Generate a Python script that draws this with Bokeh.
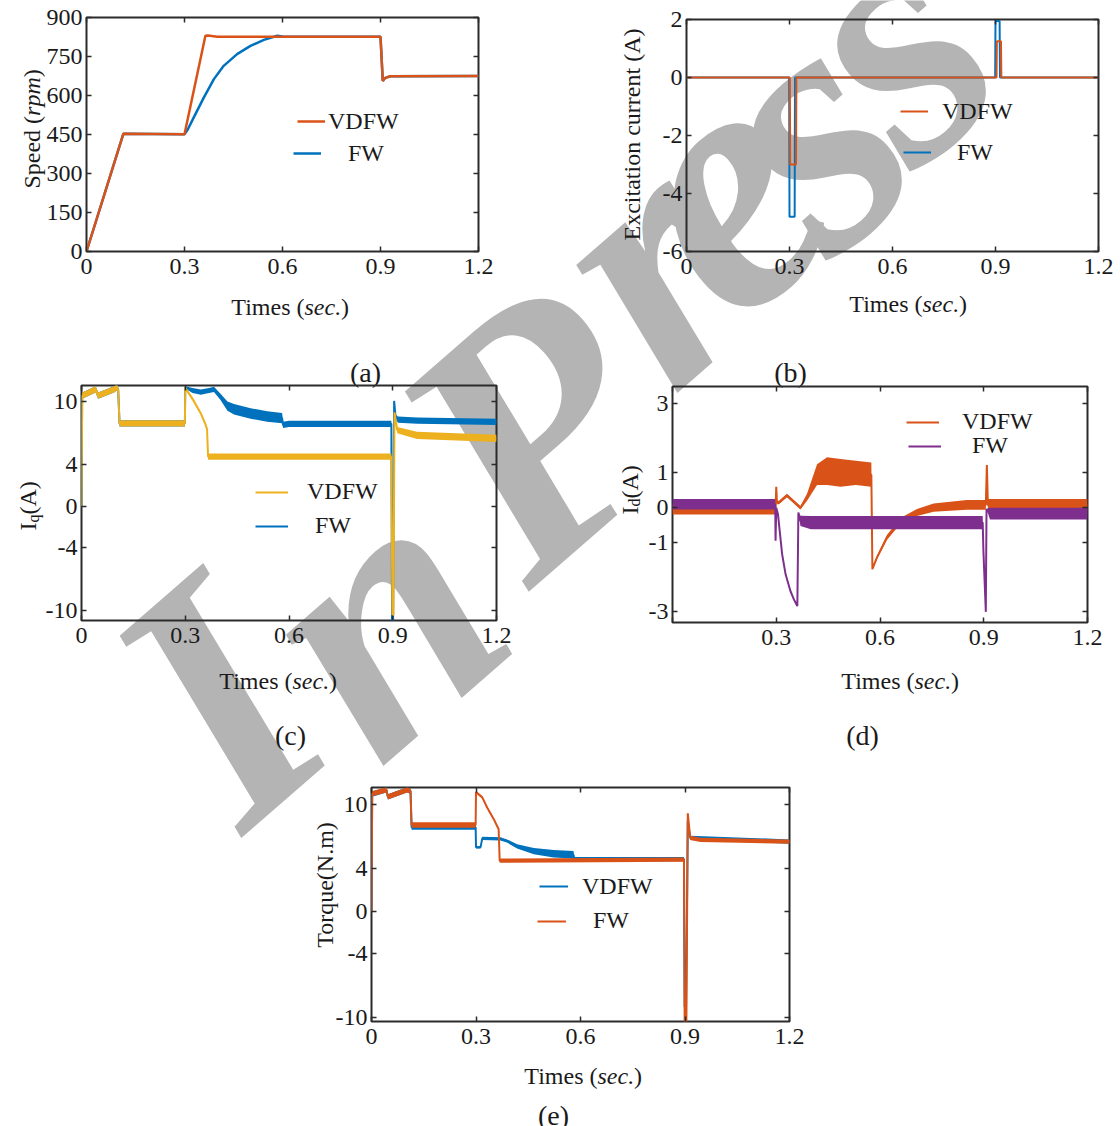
import math
import numpy as np
from bokeh.plotting import figure
from bokeh.layouts import column
from bokeh.models import GridBox, LinearAxis, FixedTicker, Legend, LegendItem
from bokeh.embed import file_html
from bokeh.resources import INLINE
from bokeh.core.properties import value

W, H = 1116, 1126
SERIF = "Liberation Serif"
INK = "#1a1a1a"
ORANGE = "#D95319"
BLUE = "#0072BD"
YELLOW = "#EDB120"
PURPLE = "#7E2F8E"
WM_GRAY = "#B4B4B4"

# ---------------- data ----------------
time_ticks = [0, 0.3, 0.6, 0.9, 1.2]
time_labels = {0: "0", 0.3: "0.3", 0.6: "0.6", 0.9: "0.9", 1.2: "1.2"}
time_labels_d = {0: "", 0.3: "0.3", 0.6: "0.6", 0.9: "0.9", 1.2: "1.2"}

# (a) speed (rpm)
a_yticks = [0, 150, 300, 450, 600, 750, 900]
a_t_vdfw = [0.0, 0.113, 0.300, 0.364, 0.372, 0.400, 0.900, 0.907, 0.915, 0.930, 1.200]
a_v_vdfw = [0, 453, 451, 830, 831, 826, 826, 656, 668, 674, 675]
a_t_fw = [0.0, 0.113, 0.300, 0.310, 0.328, 0.359, 0.390, 0.420, 0.461, 0.502, 0.543, 0.584,
          0.600, 0.900, 0.907, 0.915, 0.930, 1.200]
a_v_fw = [0, 453, 451, 469, 515, 592, 663, 714, 759, 791, 814, 830, 827, 826, 656, 668, 674, 675]

# (b) excitation current (A)
b_yticks = [-6, -4, -2, 0, 2]
b_t_vdfw = [0.0, 0.301, 0.302, 0.319, 0.320, 0.903, 0.904, 0.916, 0.917, 1.2]
b_i_vdfw = [0, 0, -3.0, -3.0, 0, 0, 1.25, 1.25, 0, 0]
b_t_fw = [0.0, 0.299, 0.300, 0.315, 0.316, 0.899, 0.900, 0.912, 0.913, 1.2]
b_i_fw = [0, 0, -4.8, -4.8, 0, 0, 1.95, 1.95, 0, 0]

# (c) Iq (A): centre value and half-width of the noise band
c_yticks = [-10, -4, 0, 4, 10]
c_t_vdfw = [0.000, 0.002, 0.041, 0.048, 0.094, 0.102, 0.106, 0.110, 0.299, 0.300, 0.303, 0.321,
            0.345, 0.359, 0.363, 0.366, 0.896, 0.899, 0.902, 0.905, 0.913, 0.970, 1.200]
c_i_vdfw = [0.0, 10.6, 11.2, 10.6, 11.2, 11.4, 11.2, 7.95, 7.95, 11.4, 11.2, 10.3,
            8.9, 7.8, 7.4, 4.75, 4.75, -10.4, -10.4, 9.0, 7.3, 6.8, 6.5]
c_n_vdfw = [0.0, 0.3, 0.3, 0.3, 0.3, 0.3, 0.3, 0.3, 0.3, 0.1, 0.15, 0.15,
            0.15, 0.15, 0.15, 0.3, 0.3, 0.1, 0.1, 0.1, 0.3, 0.35, 0.35]
c_t_fw = [0.000, 0.002, 0.041, 0.048, 0.094, 0.102, 0.106, 0.110, 0.299, 0.300, 0.321, 0.345,
          0.369, 0.383, 0.402, 0.422, 0.441, 0.489, 0.537, 0.580, 0.583, 0.600, 0.896, 0.898,
          0.901, 0.904, 0.908, 0.915, 0.971, 1.200]
c_i_fw = [0.0, 10.6, 11.2, 10.6, 11.2, 11.4, 11.2, 7.95, 7.95, 11.4, 11.1, 10.95,
          11.1, 11.2, 10.5, 9.6, 9.3, 8.9, 8.6, 8.45, 7.8, 7.9, 7.9, -11.0,
          -11.0, 10.1, 8.6, 8.3, 8.2, 8.1]
c_n_fw = [0.0, 0.3, 0.3, 0.3, 0.3, 0.3, 0.3, 0.3, 0.3, 0.1, 0.25, 0.25,
          0.25, 0.25, 0.3, 0.45, 0.5, 0.5, 0.5, 0.5, 0.3, 0.3, 0.3, 0.1,
          0.1, 0.1, 0.2, 0.3, 0.3, 0.3]

# (d) Id (A)
d_yticks = [-3, -1, 0, 1, 3]
d_t_vdfw = [0.000, 0.298, 0.300, 0.302, 0.308, 0.331, 0.370, 0.389, 0.418, 0.447, 0.486, 0.530,
            0.575, 0.578, 0.591, 0.620, 0.659, 0.707, 0.755, 0.851, 0.906, 0.909, 0.912, 1.200]
d_i_vdfw = [-0.05, -0.05, 0.6, 0.15, 0.15, 0.35, 0.0, 0.3, 0.95, 1.05, 1.0, 1.0,
            0.95, -1.77, -1.44, -0.86, -0.38, -0.14, 0.0, 0.08, 0.08, 1.23, 0.08, 0.08]
d_n_vdfw = [0.15, 0.15, 0.0, 0.05, 0.05, 0.05, 0.05, 0.1, 0.3, 0.4, 0.4, 0.35,
            0.35, 0.0, 0.05, 0.07, 0.08, 0.1, 0.12, 0.14, 0.14, 0.0, 0.17, 0.17]
d_t_fw = [0.000, 0.297, 0.298, 0.300, 0.305, 0.317, 0.327, 0.341, 0.351, 0.361, 0.364, 0.370,
          0.400, 0.897, 0.899, 0.906, 0.908, 0.918, 1.200]
d_i_fw = [0.1, 0.1, -0.95, 0.0, -0.19, -1.34, -1.92, -2.4, -2.64, -2.83, -0.14, -0.38,
          -0.43, -0.43, -1.24, -3.0, -0.04, -0.17, -0.17]
d_n_fw = [0.15, 0.15, 0.0, 0.0, 0.03, 0.03, 0.03, 0.03, 0.03, 0.03, 0.0, 0.15,
          0.19, 0.19, 0.0, 0.0, 0.0, 0.17, 0.17]

# (e) torque (N.m)
e_yticks = [-10, -4, 0, 4, 10]
e_t_vdfw = [0.000, 0.002, 0.043, 0.047, 0.102, 0.112, 0.115, 0.299, 0.300, 0.313, 0.318, 0.370,
            0.389, 0.418, 0.466, 0.523, 0.580, 0.582, 0.897, 0.899, 0.903, 0.908, 0.915, 1.200]
e_tq_vdfw = [0.0, 11.0, 11.4, 10.75, 11.4, 11.3, 7.9, 7.9, 6.0, 6.0, 6.85, 6.8,
             6.6, 6.1, 5.65, 5.4, 5.3, 4.9, 4.9, -9.0, -9.0, 8.5, 6.9, 6.55]
e_n_vdfw = [0.0, 0.25, 0.25, 0.25, 0.25, 0.25, 0.25, 0.25, 0.1, 0.1, 0.15, 0.15,
            0.15, 0.2, 0.3, 0.35, 0.35, 0.2, 0.2, 0.0, 0.0, 0.0, 0.2, 0.2]
e_t_fw = [0.000, 0.002, 0.043, 0.047, 0.102, 0.112, 0.115, 0.299, 0.300, 0.318, 0.332, 0.351,
          0.365, 0.368, 0.897, 0.899, 0.904, 0.908, 0.915, 0.944, 1.200]
e_tq_fw = [0.0, 11.05, 11.4, 10.75, 11.4, 11.3, 8.1, 8.1, 11.2, 10.7, 9.75, 8.65,
           7.7, 4.75, 4.85, -10.4, -10.4, 9.2, 6.9, 6.7, 6.55]
e_n_fw = [0.0, 0.25, 0.25, 0.25, 0.25, 0.25, 0.25, 0.25, 0.1, 0.1, 0.1, 0.1,
          0.1, 0.2, 0.2, 0.0, 0.0, 0.0, 0.2, 0.2, 0.2]

# watermark letters ("In Press") and their baseline anchors on the page
wm_letters = ["I", "n", "P", "r", "e", "s", "s"]
wm_x = [165, 299, 450, 593, 658, 752, 836]
wm_y = [745, 680, 501, 307, 243, 173, 84]


# ---------------- helpers ----------------
def style_axis(ax, standoff):
    ax.axis_line_color = None
    ax.major_tick_in = 5
    ax.major_tick_out = 0
    ax.minor_tick_line_color = None
    ax.major_tick_line_color = "#2b2b2b"
    ax.major_tick_line_width = 1.5
    ax.major_label_text_font = SERIF
    ax.major_label_text_font_size = "24px"
    ax.major_label_text_color = INK
    ax.major_label_standoff = standoff


class Panel:
    """Full-page transparent figure whose frame sits at L/T with size fw x fh."""

    def __init__(self, L, T, fw, fh, yr, yticks, xover):
        self.L, self.T, self.fw, self.fh = L, T, fw, fh
        p = figure(width=W, height=H, x_range=(0, 1.2), y_range=yr,
                   output_backend="svg", toolbar_location=None, tools="",
                   min_border_left=L, min_border_top=T,
                   min_border_right=W - L - fw, min_border_bottom=H - T - fh)
        p.background_fill_color = None
        p.border_fill_color = None
        p.outline_line_color = "#2b2b2b"
        p.outline_line_width = 2
        p.xgrid.visible = False
        p.ygrid.visible = False
        p.xaxis.ticker = FixedTicker(ticks=time_ticks)
        p.yaxis.ticker = FixedTicker(ticks=yticks)
        p.xaxis.major_label_overrides = xover
        p.yaxis.major_label_overrides = {k: str(k) for k in yticks}
        style_axis(p.xaxis[0], 7)
        style_axis(p.yaxis[0], 4)
        for side, tk in (("above", time_ticks), ("right", yticks)):
            ax = LinearAxis(ticker=FixedTicker(ticks=tk))
            style_axis(ax, 0)
            ax.major_label_overrides = {k: "" for k in tk}
            ax.major_label_text_font_size = "1px"
            p.add_layout(ax, side)
        self.p = p

    def legend(self, r, label, gx, gy, tx, gw=28):
        lg = Legend(items=[LegendItem(label=label, renderers=[r])],
                    location=(gx - self.L, self.T + self.fh - gy - 15),
                    glyph_width=gw, glyph_height=30, label_height=30,
                    label_standoff=int(round(tx - gx - gw)),
                    padding=0, margin=0, spacing=0,
                    border_line_color=None, background_fill_alpha=0,
                    label_text_font=SERIF, label_text_font_size="24px",
                    label_text_color=INK)
        self.p.add_layout(lg)


def trace(p, t, y, n, color, lw=2):
    y = np.asarray(y, dtype=float)
    n = np.asarray(n, dtype=float)
    p.varea(x=t, y1=y - n, y2=y + n, fill_color=color, fill_alpha=1.0)
    return p.line(t, y, line_color=color, line_width=lw)


# ---------------- background page: watermark + free texts ----------------
bg = figure(width=W, height=H, x_range=(0, W), y_range=(0, H), output_backend="svg",
            toolbar_location=None, tools="", min_border=0,
            x_axis_type=None, y_axis_type=None)
bg.outline_line_color = None
bg.background_fill_color = "white"
bg.border_fill_color = "white"

bg.text(x=wm_x, y=[H - v for v in wm_y], text=wm_letters, text_font=value(SERIF),
        text_font_size=value("355px"), text_font_style=value("bold italic"),
        angle=math.radians(41), text_color=WM_GRAY,
        text_align=value("left"), text_baseline=value("alphabetic"))


def put(s, x, y, size=24, style="normal", align="left", angle=0.0):
    bg.text(x=[x], y=[H - y], text=[s], text_font=value(SERIF),
            text_font_size=value(f"{size}px"), text_font_style=value(style),
            text_align=value(align), text_baseline=value("alphabetic"),
            angle=angle, text_color=INK)


def xlabel(X, base):
    put("Times (", X, base, align="right")
    put("sec.", X, base, style="italic")
    put(")", X + 36.6, base)


ROT = math.pi / 2
xlabel(304, 306.7)
xlabel(922, 303.3)
xlabel(292, 680)
xlabel(914, 680)
xlabel(597, 1075)
put("Speed (", 31, 115.4, align="right", angle=ROT)
put("rpm", 31, 115.4, style="italic", angle=ROT)
put(")", 31, 115.4 - 38.7, angle=ROT)
put("Excitation current (A)", 631, 134, align="center", angle=ROT)
put("I", 27.5, 530, angle=ROT)
put("q", 32.5, 522, size=16, angle=ROT)
put("(A)", 27.5, 514, angle=ROT)
put("I", 629, 514, angle=ROT)
put("d", 634, 506, size=16, angle=ROT)
put("(A)", 629, 498, angle=ROT)
put("Torque(N.m)", 324, 884.5, align="center", angle=ROT)
put("(a)", 365, 371.6, size=28, align="center")
put("(b)", 790, 371.6, size=28, align="center")
put("(c)", 290, 734.6, size=28, align="center")
put("(d)", 862, 734.6, size=28, align="center")
put("(e)", 553, 1115, size=28, align="center")

# ---------------- (a) ----------------
A = Panel(86, 17, 392, 234, (0, 900), a_yticks, time_labels)
ra_fw = A.p.line(a_t_fw, a_v_fw, line_color=BLUE, line_width=2.5)
ra_vd = A.p.line(a_t_vdfw, a_v_vdfw, line_color=ORANGE, line_width=2.5)
A.legend(ra_vd, "VDFW", 297, 121, 328)
A.legend(ra_fw, "FW", 293, 153, 348)

# ---------------- (b) ----------------
B = Panel(686, 19, 412, 232, (-6, 2), b_yticks, time_labels)
rb_fw = B.p.line(b_t_fw, b_i_fw, line_color=BLUE, line_width=2)
rb_vd = B.p.line(b_t_vdfw, b_i_vdfw, line_color=ORANGE, line_width=2)
B.legend(rb_vd, "VDFW", 900, 111, 942)
B.legend(rb_fw, "FW", 903, 152, 957)

# ---------------- (c) ----------------
C = Panel(81, 385, 415, 235, (-10.96, 11.58), c_yticks, time_labels)
rc_fw = trace(C.p, c_t_fw, c_i_fw, c_n_fw, BLUE)
rc_vd = trace(C.p, c_t_vdfw, c_i_vdfw, c_n_vdfw, YELLOW)
C.legend(rc_vd, "VDFW", 255, 491.7, 306.7, gw=33)
C.legend(rc_fw, "FW", 255, 525.7, 315, gw=33)

# ---------------- (d) ----------------
D = Panel(672, 386, 415, 236, (-3.307, 3.49), d_yticks, time_labels_d)
rd_vd = trace(D.p, d_t_vdfw, d_i_vdfw, d_n_vdfw, ORANGE)
rd_fw = trace(D.p, d_t_fw, d_i_fw, d_n_fw, PURPLE)
D.legend(rd_vd, "VDFW", 906, 421.7, 961.7, gw=33)
D.legend(rd_fw, "FW", 908, 445.7, 971.7, gw=33)

# ---------------- (e) ----------------
E = Panel(371, 787, 418, 234, (-10.38, 11.63), e_yticks, time_labels)
re_vd = trace(E.p, e_t_vdfw, e_tq_vdfw, e_n_vdfw, BLUE)
re_fw = trace(E.p, e_t_fw, e_tq_fw, e_n_fw, ORANGE)
E.legend(re_vd, "VDFW", 539, 886, 581.7, gw=29)
E.legend(re_fw, "FW", 537, 920.7, 593.3, gw=29)

layout = GridBox(children=[(column(bg), 0, 0), (column(A.p), 0, 0), (column(B.p), 0, 0),
                           (column(C.p), 0, 0), (column(D.p), 0, 0), (column(E.p), 0, 0)])

open("out.html", "w").write(file_html(layout, INLINE))
